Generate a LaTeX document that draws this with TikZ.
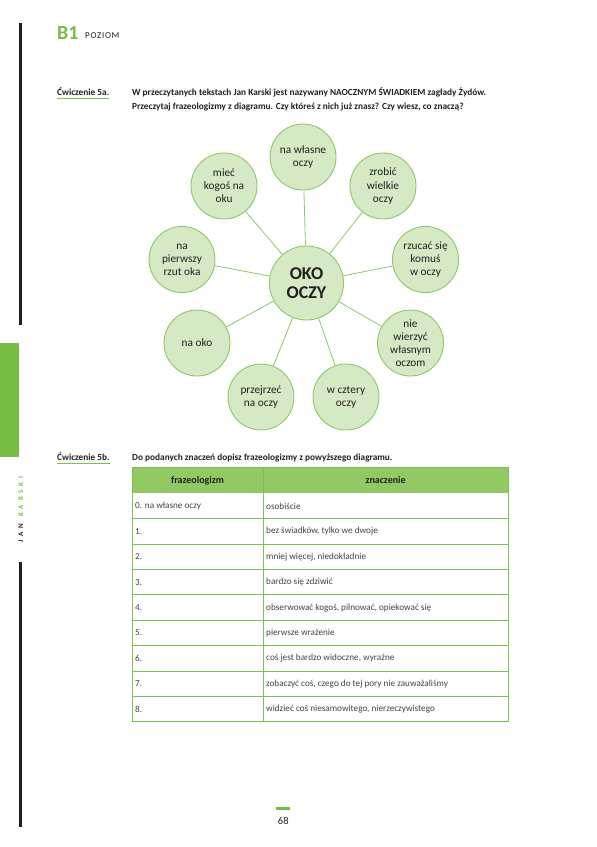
\documentclass[tikz,border=0pt]{standalone}
\usepackage{fontspec}
\setmainfont{Carlito}
\usetikzlibrary{positioning}
\definecolor{leaf}{RGB}{118,190,67}
\definecolor{bubblefill}{RGB}{213,234,196}
\definecolor{bubbleline}{RGB}{140,200,105}
\definecolor{headfill}{RGB}{146,201,101}
\definecolor{rulegreen}{RGB}{125,193,78}
\definecolor{ink}{RGB}{35,31,32}

\begin{document}
\begin{tikzpicture}[
  x=1pt,y=-1pt,
  every node/.style={text=ink},
  bubble/.style={circle,draw=bubbleline,fill=bubblefill,line width=0.9pt,minimum size=66pt,inner sep=0pt,align=center,font=\fontsize{11.3}{13.1}\selectfont},
  hub/.style={bubble,minimum size=74pt,font=\bfseries\fontsize{18}{18.7}\selectfont},
  spoke/.style={draw=bubbleline,line width=0.8pt},
  label/.style={anchor=base west,inner sep=0pt,font=\bfseries\fontsize{9.3}{10}\selectfont},
  cell/.style={anchor=west,inner sep=0pt,font=\fontsize{9.2}{10}\selectfont,text=ink!85},
  headcell/.style={inner sep=0pt,font=\bfseries\fontsize{10}{11}\selectfont},
]
\useasboundingbox (0,0) rectangle (597,847);

% margines
\fill[ink] (19.3,22.7) rectangle (22.3,325);
\fill[leaf] (0,343) rectangle (19.3,457);
\fill[ink] (19.3,562) rectangle (22.3,826.5);
\node[rotate=90,inner sep=0pt,font=\bfseries\fontsize{7}{8}\selectfont\addfontfeature{LetterSpace=55}] (side) at (20.8,509.5)
  {JAN\hspace{7pt}\textcolor{leaf}{KARSKI}};

% naglowek
\node[anchor=base west,inner sep=0pt,text=leaf,font=\bfseries\fontsize{20}{22}\selectfont] (level) at (57,39.3) {B1};
\node[anchor=base west,inner sep=0pt,font=\fontsize{9}{10}\selectfont\addfontfeature{LetterSpace=8}] (poziom) at (85,38.7) {POZIOM};

% cwiczenie 5a
\node[label] (ex5a) at (57,95) {Ćwiczenie 5a.};
\draw[rulegreen,line width=1.3pt] (ex5a.south west) ++(0,3) -- ([yshift=-3pt]ex5a.south east);
\node[label] (task5a) at (132,95) {W przeczytanych tekstach Jan Karski jest nazywany NAOCZNYM ŚWIADKIEM zagłady Żydów.};
\node[label] (task5ab) at (132,109.5) {Przeczytaj frazeologizmy z diagramu. Czy któreś z nich już znasz? Czy wiesz, co znaczą?};

% diagram
\node[hub] (oko) at (306.5,283) {OKO\\OCZY};
\node[bubble] (wlasne) at (303,157) {na własne\\oczy};
\node[bubble] (wielkie) at (383,186) {zrobić\\wielkie\\oczy};
\node[bubble] (rzucac) at (425.5,259.5) {rzucać się\\komuś\\w oczy};
\node[bubble] (wierzyc) at (410.5,343) {nie\\wierzyć\\własnym\\oczom};
\node[bubble] (cztery) at (346,397) {w cztery\\oczy};
\node[bubble] (przejrzec) at (261,397) {przejrzeć\\na oczy};
\node[bubble] (naoko) at (197,343) {na oko};
\node[bubble] (rzut) at (182,259.5) {na\\pierwszy\\rzut oka};
\node[bubble] (miec) at (224,186) {mieć\\kogoś na\\oku};

\foreach \o in {wlasne,wielkie,rzucac,wierzyc,cztery,przejrzec,naoko,rzut,miec}
  \draw[spoke] (oko) -- (\o);

% cwiczenie 5b
\node[label] (ex5b) at (57,460) {Ćwiczenie 5b.};
\draw[rulegreen,line width=1.3pt] (ex5b.south west) ++(0,3) -- ([yshift=-3pt]ex5b.south east);
\node[label] (task5b) at (132,460) {Do podanych znaczeń dopisz frazeologizmy z powyższego diagramu.};

% tabela
\fill[headfill] (132,467.5) rectangle (508,493.3);
\node[headcell] (hfraz) at (197.6,480.4) {frazeologizm};
\node[headcell] (hznacz) at (385.6,480.4) {znaczenie};
\foreach \i/\a/\b in {0/0. na własne oczy/osobiście,
                      1/1./{bez świadków, tylko we dwoje},
                      2/2./{mniej więcej, niedokładnie},
                      3/3./bardzo się zdziwić,
                      4/4./{obserwować kogoś, pilnować, opiekować się},
                      5/5./pierwsze wrażenie,
                      6/6./{coś jest bardzo widoczne, wyraźne},
                      7/7./{zobaczyć coś, czego do tej pory nie zauważaliśmy},
                      8/8./{widzieć coś niesamowitego, nierzeczywistego}} {
  \node[cell] (f\i) at (135,506+25.4*\i) {\a};
  \node[cell] (z\i) at (266,506+25.4*\i) {\b};
  \draw[rulegreen,line width=0.9pt] (132,518.7+25.4*\i) -- (508,518.7+25.4*\i);
}
\draw[rulegreen,line width=0.9pt] (132,467.5) rectangle (508,721.9);
\draw[rulegreen,line width=0.9pt] (263.3,467.5) -- (263.3,721.9);

% stopka
\fill[leaf] (276,806.7) rectangle (290,810);
\node[anchor=base,inner sep=0pt,font=\fontsize{10.5}{12}\selectfont] (page) at (283.3,824.7) {68};
\end{tikzpicture}
\end{document}
